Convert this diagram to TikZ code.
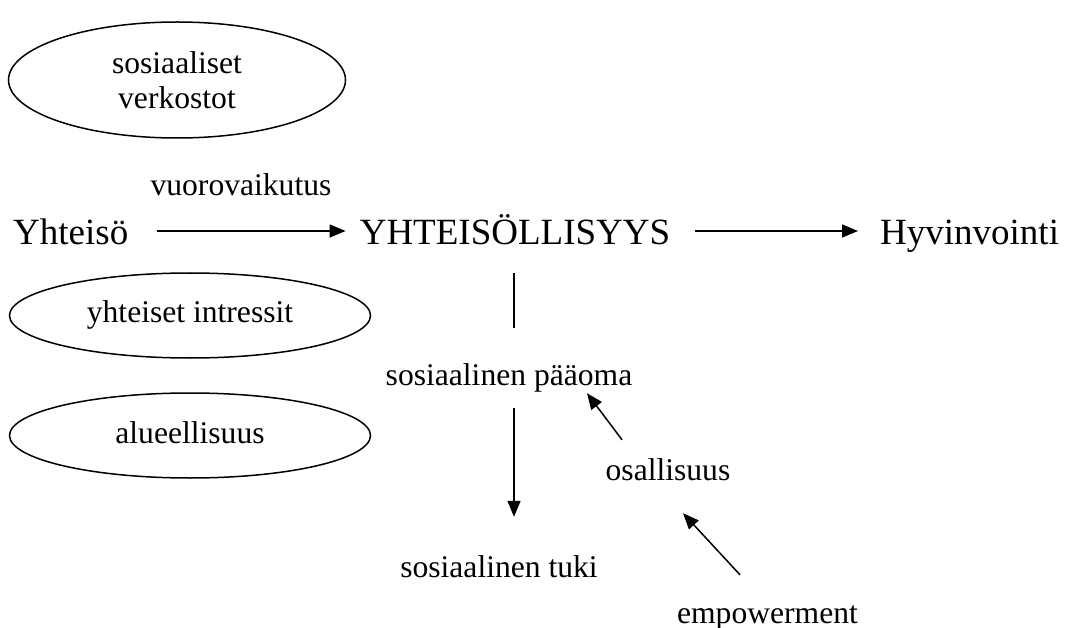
\documentclass[tikz,border=0pt]{standalone}
\usepackage{fontspec}
\setmainfont{Liberation Serif}
\usetikzlibrary{positioning, arrows.meta, shapes.geometric}

\begin{document}
\begin{tikzpicture}[
            x=1pt, y=-1pt,
            big/.style={inner sep=0pt, anchor=base, font=\fontsize{37}{40}\selectfont, text height=28pt, text depth=0pt},
            small/.style={inner sep=0pt, anchor=base, font=\fontsize{31.6}{35}\selectfont, text height=22pt, text depth=7pt},
            oval/.style={draw, ellipse, line width=1.5pt, inner sep=0pt, align=center, font=\fontsize{31.6}{35}\selectfont},
            arr/.style={-{Triangle[length=16pt, width=13pt]}, line width=1.5pt},
            lin/.style={line width=1.5pt}
        ]
            \useasboundingbox (0,0) rectangle (1068,628);

            % Ovals on the left
            \node[oval, minimum width=337pt, minimum height=116pt] (verkostot) at (177,80) {sosiaaliset\\verkostot};
            \node[oval, minimum width=361pt, minimum height=85pt, text height=22pt, text depth=7pt] (intressit) at (190,315.5) {yhteiset intressit};
            \node[oval, minimum width=361pt, minimum height=85pt, text height=22pt, text depth=7pt] (alue) at (190,435.5) {alueellisuus};

            % Main row
            \node[big, anchor=base west] (yht) at (13,245) {Yhteisö};
            \node[big] (yhtsyys) at (515,245) {YHTEISÖLLISYYS};
            \node[big, anchor=base west] (hyvin) at (880,245) {Hyvinvointi};
            \node[small] (vuoro) at (241,196) {vuorovaikutus};

            \draw[arr, shorten <=28pt, shorten >=14pt] (yht.east) -- (yhtsyys.west);
            \draw[arr, shorten <=25pt, shorten >=22pt] (yhtsyys.east) -- (hyvin.west);

            % Lower part
            \node[small] (paaoma) at (509,385) {sosiaalinen pääoma};
            \node[small] (tuki) at (499,577) {sosiaalinen tuki};
            \node[small] (osal) at (668,480) {osallisuus};
            \node[small] (emp) at (767.5,623) {empowerment};

            \draw[lin, shorten <=28pt, shorten >=35pt] ([xshift=-1pt]yhtsyys.south) -- ([xshift=-1pt]yhtsyys.south |- paaoma.north);
            \draw[arr, shorten <=16pt, shorten >=38pt] ([xshift=-1pt]yhtsyys.south |- paaoma.south) -- ([xshift=-1pt]yhtsyys.south |- tuki.north);
            \draw[arr] ([shift={(-46,-18)}]osal.north) -- ([shift={(78,1)}]paaoma.south);
            \draw[arr] ([shift={(-27.5,-26)}]emp.north) -- ([shift={(15,26)}]osal.south);
        \end{tikzpicture}
\end{document}
